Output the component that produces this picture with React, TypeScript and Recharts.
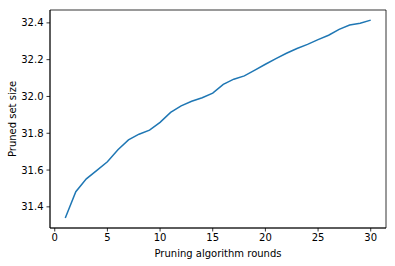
import React from 'react';
import { LineChart, Line, XAxis, YAxis, ReferenceArea } from 'recharts';

const rounds = [
  1, 2, 3, 4, 5, 6, 7, 8, 9, 10, 11, 12, 13, 14, 15,
  16, 17, 18, 19, 20, 21, 22, 23, 24, 25, 26, 27, 28, 29, 30,
];
const setSize = [
  31.339, 31.482, 31.552, 31.598, 31.645, 31.71, 31.764, 31.795, 31.817, 31.859,
  31.913, 31.949, 31.974, 31.993, 32.018, 32.066, 32.094, 32.112, 32.143, 32.175,
  32.206, 32.235, 32.261, 32.283, 32.309, 32.333, 32.365, 32.388, 32.398, 32.415,
];
const xTicks = [0, 5, 10, 15, 20, 25, 30];
const yTicks = [31.4, 31.6, 31.8, 32.0, 32.2, 32.4];

const data = rounds.map((r, i) => ({ round: r, size: setSize[i] }));

const xDomain: [number, number] = [-0.45, 31.45];
const yDomain: [number, number] = [31.285, 32.47];

const font = 'DejaVu Sans, sans-serif';
const axisColor = '#000';
const tickStyle = { fontSize: 10, fill: '#000', fontFamily: font };

export default function App() {
  return (
    <div style={{ position: 'absolute', left: 0, top: 0, width: 395, height: 266, background: '#fff' }}>
      <LineChart width={395} height={266} data={data} margin={{ top: 10, right: 9, left: 0, bottom: 0 }}>
        <XAxis
          dataKey="round"
          type="number"
          domain={xDomain}
          allowDataOverflow
          ticks={xTicks}
          height={38}
          stroke={axisColor}
          strokeWidth={0.8}
          tickSize={3.5}
          tickMargin={2}
          tick={tickStyle}
          label={{ value: 'Pruning algorithm rounds', position: 'center', dy: 6, style: { fontSize: 10, fill: '#000', fontFamily: font } }}
        />
        <YAxis
          type="number"
          domain={yDomain}
          allowDataOverflow
          ticks={yTicks}
          tickFormatter={(v: number) => v.toFixed(1)}
          width={50}
          stroke={axisColor}
          strokeWidth={0.8}
          tickSize={3.5}
          tickMargin={3}
          tick={tickStyle}
          label={{ value: 'Pruned set size', angle: -90, position: 'center', dx: -13, style: { fontSize: 10, fill: '#000', fontFamily: font, textAnchor: 'middle' } }}
        />
        {/* matplotlib-style box around the plot */}
        <ReferenceArea
          x1={xDomain[0]}
          x2={xDomain[1]}
          y1={yDomain[0]}
          y2={yDomain[1]}
          fill="none"
          fillOpacity={0}
          stroke={axisColor}
          strokeWidth={0.8}
          ifOverflow="extendDomain"
        />
        <Line
          type="linear"
          dataKey="size"
          stroke="#1f77b4"
          strokeWidth={1.5}
          dot={false}
          isAnimationActive={false}
        />
      </LineChart>
    </div>
  );
}
